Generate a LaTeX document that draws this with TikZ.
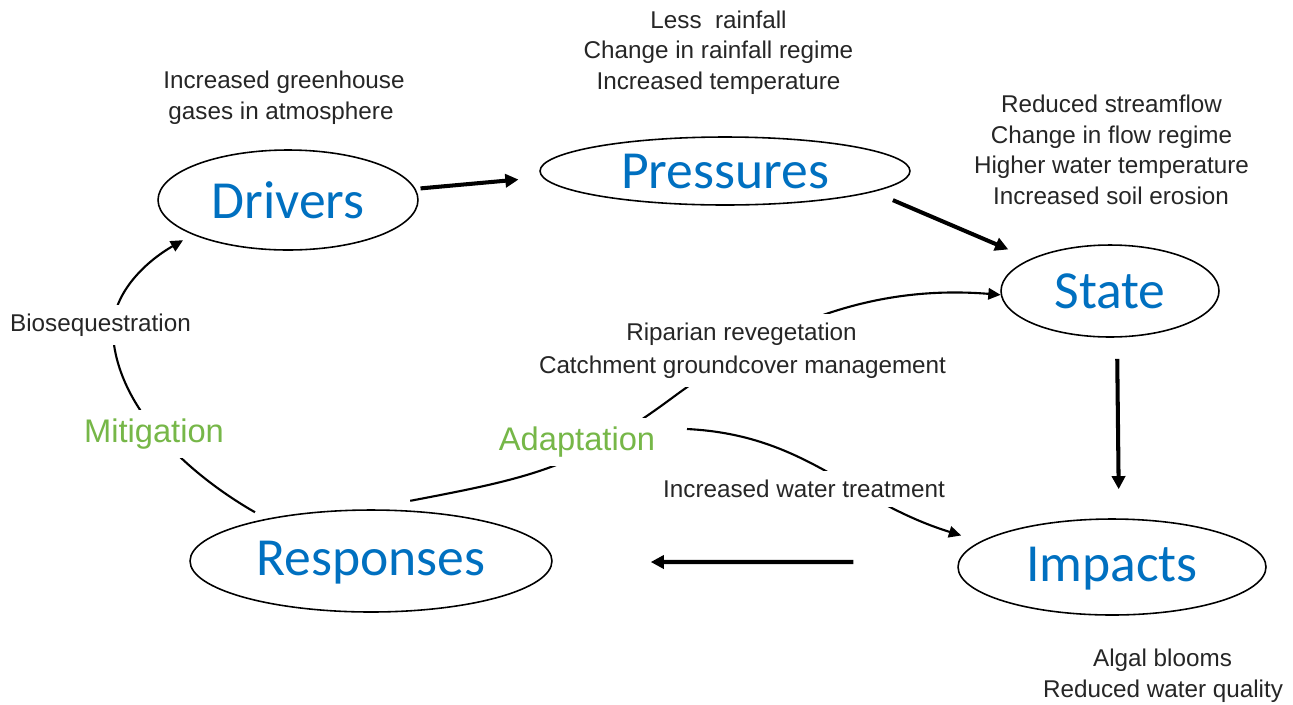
\documentclass[tikz,border=0pt]{standalone}
\usepackage{fontspec}
\setmainfont{Liberation Sans}
\newfontfamily\labfont{Carlito}
\usetikzlibrary{shapes.geometric,arrows.meta}
\definecolor{dpsirblue}{HTML}{0070C0}
\definecolor{dpsirgreen}{RGB}{118,183,72}
\definecolor{txtgray}{HTML}{262626}
\begin{document}
\begin{tikzpicture}[x=0.02cm,y=-0.02cm,
  stage/.style={ellipse, draw=black, line width=0.9pt, inner sep=0pt,
    font=\labfont\fontsize{30.5}{36}\selectfont, text=dpsirblue},
  note/.style={anchor=base, font=\fontsize{13.8}{16}\selectfont, text=txtgray, inner sep=0pt},
  gapnote/.style={note, fill=white, inner xsep=4pt, inner ysep=5pt},
  strat/.style={anchor=base, font=\fontsize{18.6}{22}\selectfont, text=dpsirgreen,
    fill=white, inner xsep=4pt, inner ysep=5pt},
  bigarrow/.style={line width=2.3pt, -{Triangle[length=7.5pt,width=7.5pt]}},
  thinarrow/.style={line width=1.2pt, -{Triangle[length=7pt,width=6.5pt]}}
]
\fill[white] (0,0) rectangle (1293,704);
\useasboundingbox (0,0) rectangle (1293,704);

% stages
\node[stage, minimum width=5.2cm, minimum height=2.0cm] (drv) at (288,200) {Drivers};
\node[stage, minimum width=7.4cm, minimum height=1.36cm] (prs) at (725,171) {Pressures};
\node[stage, minimum width=4.36cm, minimum height=1.84cm] (st) at (1110,291) {State};
\node[stage, minimum width=6.16cm, minimum height=1.92cm, text depth=3pt] (imp) at (1112,567) {Impacts};
\node[stage, minimum width=7.24cm, minimum height=2.04cm, text depth=3pt] (resp) at (371,561) {Responses};

% main cycle
\draw[bigarrow, shorten <=0.1cm, shorten >=0.48cm] (drv.5) -- (prs.182);
\draw[bigarrow, shorten <=0.42cm, shorten >=0.48cm] (prs.352) -- (st.158);
\draw[bigarrow, shorten <=0.42cm, shorten >=0.58cm] ([xshift=0.14cm]st.south) -- ([xshift=0.14cm]imp.north);
\draw[bigarrow, shorten <=2.08cm, shorten >=1.96cm] ([yshift=0.1cm]imp.west) -- ([yshift=-0.02cm]resp.east);

% mitigation
\draw[thinarrow, shorten <=0.26cm, shorten >=0.22cm] (resp.158)
  .. controls (190,475) and (118,410) .. (113,335)
  .. controls (110,295) and (145,262) .. (drv.200);

% adaptation
\draw[thinarrow] ([shift={(0.24cm,0.18cm)}]resp.62)
  .. controls (530,478) and (577.5,468) .. (672,398)
  .. controls (780,318) and (880,285) .. (st.182);
\coordinate (adr) at (687,429);
\draw[thinarrow, shorten >=0.4cm] (adr) .. controls (807,435) and (850,501) .. (imp.169);

% texts
\node[note] (t1) at (284,88.5) {Increased greenhouse};
\node[note] (t2) at (281,119.5) {gases in atmosphere};
\node[note] (p1) at (718.5,28.5) {Less\ \ rainfall};
\node[note] (p2) at (718.5,58.5) {Change in rainfall regime};
\node[note] (p3) at (718.5,89.5) {Increased temperature};
\node[note] (s1) at (1111.5,112.5) {Reduced streamflow};
\node[note] (s2) at (1111.5,143.5) {Change in flow regime};
\node[note] (s3) at (1111.5,173.5) {Higher water temperature};
\node[note] (s4) at (1111,204.5) {Increased soil erosion};
\node[note] (i1) at (1162.5,666.5) {Algal blooms};
\node[note] (i2) at (1163,697.5) {Reduced water quality};

\node[gapnote] (bio) at (100.5,331.5) {Biosequestration};
\node[gapnote] (rip) at (741.5,340.5) {Riparian revegetation};
\node[gapnote] (cgm) at (742.5,373.5) {Catchment groundcover management};
\node[gapnote] (iwt) at (804,497.5) {Increased water treatment};
\node[strat] (mit) at (154,442) {Mitigation};
\node[strat] (ada) at (577,450) {Adaptation};
\end{tikzpicture}
\end{document}
